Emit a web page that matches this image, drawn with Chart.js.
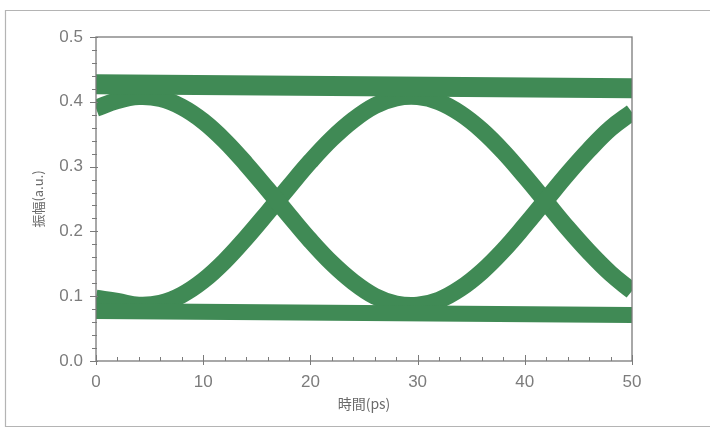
<!DOCTYPE html>
<html>
<head>
<meta charset="utf-8">
<script src="https://cdn.jsdelivr.net/npm/chart.js@4.4.1/dist/chart.umd.min.js"></script>
<style>
  html, body { margin: 0; padding: 0; background: #fff; }
  #wrap { width: 710px; height: 429px; position: relative; }
</style>
</head>
<body>
<div id="wrap"><canvas id="eye"></canvas></div>
<script>
// Data
const timePs = [0, 2, 4, 6, 8, 10, 12, 14, 16, 18, 20, 22, 24, 26, 28, 30, 32, 34, 36, 38, 40, 42, 44, 46, 48, 50];
const upperTrace = [0.390, 0.402, 0.408, 0.405, 0.392, 0.370, 0.340, 0.304, 0.265, 0.225, 0.186, 0.151, 0.122, 0.100, 0.088, 0.086, 0.094, 0.112, 0.138, 0.171, 0.209, 0.249, 0.289, 0.326, 0.359, 0.384];
const lowerTrace = [0.097, 0.092, 0.086, 0.089, 0.102, 0.124, 0.154, 0.190, 0.229, 0.269, 0.308, 0.343, 0.372, 0.394, 0.406, 0.408, 0.400, 0.382, 0.356, 0.323, 0.285, 0.245, 0.205, 0.168, 0.135, 0.108];
const levelTime = [0, 50];
const highLevel = [0.427, 0.421];
const lowLevel = [0.077, 0.071];

const xTicks = [0, 10, 20, 30, 40, 50];
const yTicks = [0.0, 0.1, 0.2, 0.3, 0.4, 0.5];
const xLabel = '時間(ps)';
const yLabel = '振幅(a.u.)';

const green = '#408a55';
const axisGrey = '#7a7a7a';
const textGrey = '#7c7c7c';

function toPoints(xs, ys) {
  return xs.map((x, i) => ({ x: x, y: ys[i] }));
}

function trace(xs, ys, width) {
  return {
    data: toPoints(xs, ys),
    borderColor: green,
    backgroundColor: green,
    borderWidth: width,
    pointRadius: 0,
    tension: 0.4,
    clip: 0,
    borderCapStyle: 'butt'
  };
}

// page frame, plot frame and minor ticks
const framePlugin = {
  id: 'frame',
  beforeDraw(chart) {
    const ctx = chart.ctx;
    ctx.save();
    ctx.strokeStyle = '#b4b4b4';
    ctx.lineWidth = 1.2;
    ctx.beginPath();
    ctx.moveTo(720, 10.5);
    ctx.lineTo(5.5, 10.5);
    ctx.lineTo(5.5, 426.5);
    ctx.lineTo(720, 426.5);
    ctx.stroke();
    ctx.restore();
  },
  afterDraw(chart) {
    const ctx = chart.ctx;
    const a = chart.chartArea;
    const xs = chart.scales.x;
    const ys = chart.scales.y;
    ctx.save();
    ctx.strokeStyle = axisGrey;
    ctx.lineWidth = 1.3;
    ctx.strokeRect(a.left, a.top, a.right - a.left, a.bottom - a.top);
    ctx.lineWidth = 1;
    ctx.beginPath();
    for (let v = 0; v <= 50.001; v += 2) {
      const px = Math.round(xs.getPixelForValue(v)) + 0.5;
      const major = Math.abs(v % 10) < 0.001;
      ctx.moveTo(px, a.bottom + (major ? 4 : 0));
      ctx.lineTo(px, a.bottom - (major ? 6 : 4));
    }
    for (let v = 0; v <= 0.5001; v += 0.02) {
      const py = Math.round(ys.getPixelForValue(v)) + 0.5;
      const major = Math.abs(Math.round(v * 100) % 10) < 0.001;
      ctx.moveTo(a.left - (major ? 6 : 4), py);
      ctx.lineTo(a.left + (major ? 2 : 1), py);
    }
    ctx.stroke();
    ctx.restore();
  }
};

const tickFont = { family: "'Liberation Sans', Arial, sans-serif", size: 17 };
const titleFont = { family: "'Noto Sans CJK JP', sans-serif", size: 14 };

new Chart(document.getElementById('eye'), {
  type: 'line',
  data: {
    datasets: [
      trace(levelTime, highLevel, 20),
      trace(levelTime, lowLevel, 16),
      trace(timePs, upperTrace, 17),
      trace(timePs, lowerTrace, 17)
    ]
  },
  options: {
    responsive: true,
    maintainAspectRatio: false,
    animation: false,
    layout: { padding: { top: 37, right: 78, left: 0, bottom: 0 } },
    plugins: {
      legend: { display: false },
      tooltip: { enabled: false }
    },
    scales: {
      x: {
        type: 'linear',
        min: 0,
        max: 50,
        afterFit: (s) => { s.height = 68; },
        afterBuildTicks: (s) => { s.ticks = xTicks.map(v => ({ value: v })); },
        ticks: { color: textGrey, font: tickFont, padding: 11, maxRotation: 0 },
        grid: { display: false, drawTicks: false },
        border: { display: false },
        title: { display: true, text: xLabel, color: '#6a6a6a', font: titleFont, padding: { top: 0, bottom: 17 } }
      },
      y: {
        min: 0,
        max: 0.5,
        afterFit: (s) => { s.width = 96; },
        afterBuildTicks: (s) => { s.ticks = yTicks.map(v => ({ value: v })); },
        ticks: { color: textGrey, font: tickFont, padding: 13, callback: (v) => v.toFixed(1) },
        grid: { display: false, drawTicks: false },
        border: { display: false },
        title: { display: true, text: yLabel, color: '#6a6a6a', font: { family: titleFont.family, size: 13 }, padding: { top: 30, bottom: 0 } }
      }
    }
  },
  plugins: [framePlugin]
});
</script>
</body>
</html>
